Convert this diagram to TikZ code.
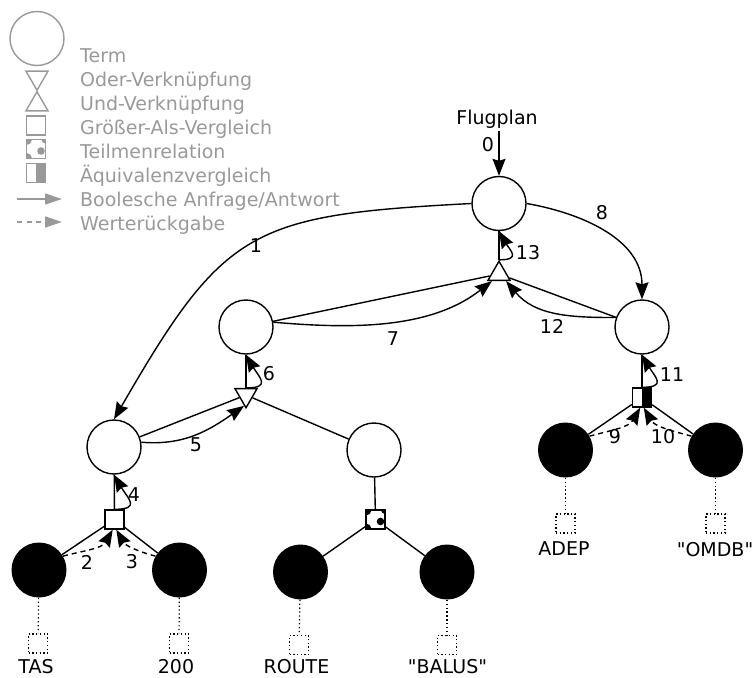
\documentclass[tikz,border=0pt]{standalone}
\usepackage{fontspec}
\setmainfont{DejaVu Sans}[Ligatures=TeXOff]
\usetikzlibrary{shapes.geometric, arrows.meta, positioning}
\definecolor{legendgray}{gray}{0.6}
\tikzset{
  term/.style={circle, draw=#1, line width=1.4pt, fill=white, minimum size=54pt, inner sep=0pt},
  term/.default=black,
  leaf/.style={circle, fill=black, minimum size=55pt, inner sep=0pt},
  andtri/.style={
    regular polygon, regular polygon sides=3, draw=#1, line width=1.4pt, fill=white,
    minimum size=25.5pt, inner sep=0pt
  },
  andtri/.default=black,
  ortri/.style={andtri=#1, regular polygon rotate=180},
  ortri/.default=black,
  opbox/.style={rectangle, draw=#1, line width=1.4pt, fill=white, minimum size=19pt, inner sep=0pt},
  opbox/.default=black,
  subsetbox/.style={
    opbox=#1,
    path picture={
      \fill[#1] (path picture bounding box.north west) circle (5.5pt);
      \fill[#1] (path picture bounding box.south west) circle (5.5pt);
      \fill[#1] (path picture bounding box.north east) circle (4pt);
      \fill[#1] ([xshift=5pt, yshift=-2pt]path picture bounding box.center) circle (3.8pt);
    }
  },
  subsetbox/.default=black,
  eqbox/.style={
    opbox=#1,
    path picture={
      \fill[#1] (path picture bounding box.north) rectangle (path picture bounding box.south east);
    }
  },
  eqbox/.default=black,
  valbox/.style={rectangle, draw, line width=1.2pt, dash pattern=on 1.3pt off 2.4pt, minimum size=19pt, inner sep=0pt},
  dotline/.style={line width=1.2pt, dash pattern=on 1.3pt off 2.6pt},
  link/.style={line width=1.4pt},
  req/.style={line width=1.4pt, -{Stealth[length=17pt, width=13pt, inset=2pt]}},
  ret/.style={req, dash pattern=on 5pt off 4pt},
  legendarrow/.style={draw=legendgray, line width=1.4pt, -{Triangle[length=17pt, width=11pt]}},
  num/.style={inner sep=0pt},
  lbl/.style={inner sep=0pt, anchor=base},
  legendtext/.style={text=legendgray, inner sep=0pt, anchor=base west}
}
\begin{document}
\begin{tikzpicture}[x=1pt, y=-1pt, font=\fontsize{19}{23}\selectfont]
  \useasboundingbox (0,0) rectangle (754,677);
  % Legende
  \node[term=legendgray] (lterm) at (37,38.5) {};
  \node[ortri=legendgray] (lor) at (37,77.5) {};
  \node[andtri=legendgray] (land) at (37,104.5) {};
  \node[opbox=legendgray] (lgt) at (36,125.5) {};
  \node[subsetbox=legendgray] (lsub) at (36,149) {};
  \node[eqbox=legendgray] (leq) at (36,173) {};
  \coordinate (lreqa) at (17,199);
  \coordinate (lreqb) at (62,199);
  \draw[legendarrow] (lreqa) -- (lreqb);
  \coordinate (lreta) at (17,222);
  \coordinate (lretb) at (62,222);
  \draw[legendarrow, dash pattern=on 5pt off 4.5pt] (lreta) -- (lretb);
  \node[legendtext] (tterm) at (80,62.5) {Term};
  \node[legendtext] (tor) at (80,86.5) {Oder-Verknüpfung};
  \node[legendtext] (tand) at (80,110.5) {Und-Verknüpfung};
  \node[legendtext] (tgt) at (80,134.5) {Größer-Als-Vergleich};
  \node[legendtext] (tsub) at (80,158.5) {Teilmenrelation};
  \node[legendtext] (teq) at (80,182.5) {Äquivalenzvergleich};
  \node[legendtext] (treq) at (80,206.5) {Boolesche Anfrage/Antwort};
  \node[legendtext] (tret) at (80,230.5) {Werterückgabe};
  % Terme und Verknuepfungen
  \node[anchor=base] (flugplan) at (497,124) {Flugplan};
  \node[term] (wurzel) at (499,203.5) {};
  \node[andtri] (und) at (499,274) {};
  \node[term] (links) at (246,327) {};
  \node[term] (rechts) at (642,327) {};
  \node[ortri] (oder) at (246,395) {};
  \node[term] (tasterm) at (114,447) {};
  \node[term] (routeterm) at (374,450) {};
  \node[opbox] (gt) at (114.5,519.5) {};
  \node[subsetbox] (sub) at (375.5,519.5) {};
  \node[eqbox] (eq) at (642,397.5) {};
  % Blaetter
  \node[leaf] (tas) at (39,570) {};
  \node[leaf] (zwei) at (179.5,570) {};
  \node[leaf] (route) at (300.5,572) {};
  \node[leaf] (balus) at (447,572) {};
  \node[leaf] (adep) at (565.5,450) {};
  \node[leaf] (omdb) at (715.5,450) {};
  \node[valbox] (tasval) at (38,643.5) {};
  \node[valbox] (zweival) at (179,643.5) {};
  \node[valbox] (routeval) at (299,645) {};
  \node[valbox] (balusval) at (447,645) {};
  \node[valbox] (adepval) at (565.5,523.5) {};
  \node[valbox] (omdbval) at (715.5,523.5) {};
  \node[lbl] (taslbl) at (36,673) {TAS};
  \node[lbl] (zweilbl) at (176,673) {200};
  \node[lbl] (routelbl) at (296.5,673) {ROUTE};
  \node[lbl] (baluslbl) at (447.5,673) {"BALUS"};
  \node[lbl] (adeplbl) at (564,555.5) {ADEP};
  \node[lbl] (omdblbl) at (715,556.5) {"OMDB"};
  % Baumkanten
  \draw[link] (wurzel) -- (und);
  \draw[link] (links) -- (und);
  \draw[link] (rechts) -- (und);
  \draw[link] (links) -- (oder);
  \draw[link] (tasterm) -- (oder);
  \draw[link] (routeterm) -- (oder);
  \draw[link] (tasterm) -- (gt);
  \draw[link] (gt) -- (tas);
  \draw[link] (gt) -- (zwei);
  \draw[link] (routeterm) -- (sub);
  \draw[link] (sub) -- (route);
  \draw[link] (sub) -- (balus);
  \draw[link] (rechts) -- (eq);
  \draw[link] (eq) -- (adep);
  \draw[link] (eq) -- (omdb);
  \draw[dotline] (tas) -- (tasval);
  \draw[dotline] (zwei) -- (zweival);
  \draw[dotline] (route) -- (routeval);
  \draw[dotline] (balus) -- (balusval);
  \draw[dotline] (adep) -- (adepval);
  \draw[dotline] (omdb) -- (omdbval);
  % Auswertungsreihenfolge
  \draw[req] (flugplan.south -| wurzel) -- (wurzel);
  \draw[req] (wurzel.west) to[out=183, in=60, looseness=1.35] (tasterm.north);
  \draw[ret] (tas.30) to[out=15, in=-120] (gt.-100);
  \draw[ret] (zwei.150) to[out=165, in=-60] (gt.-80);
  \draw[req] (gt.north) to[out=0, in=-60, looseness=2] (tasterm.south);
  \draw[req] (tasterm.10) to[out=-5, in=-145] (oder.-100);
  \draw[req] (oder.north) to[out=0, in=-60, looseness=2] (links.south);
  \draw[req] (links.10) to[out=-5, in=-142, looseness=0.9] (und.-135);
  \draw[req] (wurzel.east) to[out=-10, in=90] (rechts.north);
  \draw[ret] (adep.30) to[out=15, in=-120] (eq.-100);
  \draw[ret] (omdb.150) to[out=165, in=-60] (eq.-80);
  \draw[req] (eq.north) to[out=0, in=-60, looseness=2] (rechts.south);
  \draw[req] (rechts.160) to[out=180, in=-50] (und.-45);
  \draw[req] (und.north) to[out=0, in=-60, looseness=2] (wurzel.south);
  % Nummern
  \node[num] (n0) at (488,145) {0};
  \node[num] (n1) at (256,246) {1};
  \node[num] (n2) at (87,562) {2};
  \node[num] (n3) at (132,562) {3};
  \node[num] (n4) at (134,495) {4};
  \node[num] (n5) at (196,445) {5};
  \node[num] (n6) at (269,374) {6};
  \node[num] (n7) at (393,339) {7};
  \node[num] (n8) at (602,213) {8};
  \node[num] (n9) at (615,437) {9};
  \node[num] (n10) at (663,437) {10};
  \node[num] (n11) at (672,375) {11};
  \node[num] (n12) at (552,326) {12};
  \node[num] (n13) at (528,253) {13};
\end{tikzpicture}
\end{document}
